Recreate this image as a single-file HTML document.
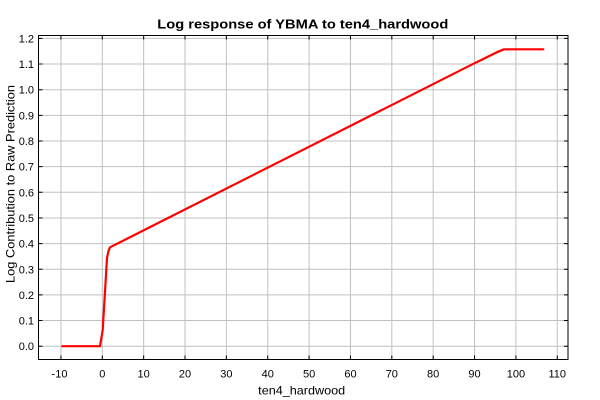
<!DOCTYPE html>
<html><head><meta charset="utf-8"><style>
html,body{margin:0;padding:0;background:#fff;}
svg{display:block;}
text{font-family:"Liberation Sans",Arial,sans-serif;fill:#000;}
</style></head><body>
<svg width="600" height="400" viewBox="0 0 600 400" xmlns="http://www.w3.org/2000/svg">
<rect width="600" height="400" fill="#fff"/>
<g stroke="#c0c0c0" stroke-width="1">
<line x1="60.94" y1="35.5" x2="60.94" y2="359.5"/>
<line x1="102.3" y1="35.5" x2="102.3" y2="359.5"/>
<line x1="143.66" y1="35.5" x2="143.66" y2="359.5"/>
<line x1="185.02" y1="35.5" x2="185.02" y2="359.5"/>
<line x1="226.38" y1="35.5" x2="226.38" y2="359.5"/>
<line x1="267.74" y1="35.5" x2="267.74" y2="359.5"/>
<line x1="309.1" y1="35.5" x2="309.1" y2="359.5"/>
<line x1="350.46" y1="35.5" x2="350.46" y2="359.5"/>
<line x1="391.82" y1="35.5" x2="391.82" y2="359.5"/>
<line x1="433.18" y1="35.5" x2="433.18" y2="359.5"/>
<line x1="474.54" y1="35.5" x2="474.54" y2="359.5"/>
<line x1="515.9" y1="35.5" x2="515.9" y2="359.5"/>
<line x1="557.26" y1="35.5" x2="557.26" y2="359.5"/>
<line x1="38.5" y1="346.2" x2="568" y2="346.2"/>
<line x1="38.5" y1="320.55" x2="568" y2="320.55"/>
<line x1="38.5" y1="294.9" x2="568" y2="294.9"/>
<line x1="38.5" y1="269.25" x2="568" y2="269.25"/>
<line x1="38.5" y1="243.6" x2="568" y2="243.6"/>
<line x1="38.5" y1="217.95" x2="568" y2="217.95"/>
<line x1="38.5" y1="192.3" x2="568" y2="192.3"/>
<line x1="38.5" y1="166.65" x2="568" y2="166.65"/>
<line x1="38.5" y1="141" x2="568" y2="141"/>
<line x1="38.5" y1="115.35" x2="568" y2="115.35"/>
<line x1="38.5" y1="89.7" x2="568" y2="89.7"/>
<line x1="38.5" y1="64.05" x2="568" y2="64.05"/>
<line x1="38.5" y1="38.4" x2="568" y2="38.4"/>
</g>
<polyline fill="none" stroke="#ff0000" stroke-width="2.2" stroke-linejoin="round" stroke-linecap="round"
points="62.3,346.2 100,346.2 102.7,330 104.5,300 107,258 108.5,251 110,247.3 474.3,63.3 482,59.6 490,55.6 498,51.8 504,49.3 543.3,49.3"/>
<g stroke="#000" stroke-width="1" fill="none">
<rect x="38.5" y="35.5" width="529.5" height="324"/>
<path d="M60.94 359.5v-4M102.3 359.5v-4M143.66 359.5v-4M185.02 359.5v-4M226.38 359.5v-4M267.74 359.5v-4M309.1 359.5v-4M350.46 359.5v-4M391.82 359.5v-4M433.18 359.5v-4M474.54 359.5v-4M515.9 359.5v-4M557.26 359.5v-4"/>
<path d="M60.94 35.5v4M102.3 35.5v4M143.66 35.5v4M185.02 35.5v4M226.38 35.5v4M267.74 35.5v4M309.1 35.5v4M350.46 35.5v4M391.82 35.5v4M433.18 35.5v4M474.54 35.5v4M515.9 35.5v4M557.26 35.5v4"/>
<path d="M38.5 346.2h4M38.5 320.55h4M38.5 294.9h4M38.5 269.25h4M38.5 243.6h4M38.5 217.95h4M38.5 192.3h4M38.5 166.65h4M38.5 141h4M38.5 115.35h4M38.5 89.7h4M38.5 64.05h4M38.5 38.4h4"/>
<path d="M568 346.2h-4M568 320.55h-4M568 294.9h-4M568 269.25h-4M568 243.6h-4M568 217.95h-4M568 192.3h-4M568 166.65h-4M568 141h-4M568 115.35h-4M568 89.7h-4M568 64.05h-4M568 38.4h-4"/>
</g>
<g font-size="11" text-anchor="end">
<text x="34" y="350.2">0.0</text>
<text x="34" y="324.55">0.1</text>
<text x="34" y="298.9">0.2</text>
<text x="34" y="273.25">0.3</text>
<text x="34" y="247.6">0.4</text>
<text x="34" y="221.95">0.5</text>
<text x="34" y="196.3">0.6</text>
<text x="34" y="170.65">0.7</text>
<text x="34" y="145">0.8</text>
<text x="34" y="119.35">0.9</text>
<text x="34" y="93.7">1.0</text>
<text x="34" y="68.05">1.1</text>
<text x="34" y="42.4">1.2</text>
</g>
<g font-size="11" text-anchor="middle">
<text x="59.5" y="377.5">-10</text>
<text x="102.3" y="377.5">0</text>
<text x="143.66" y="377.5">10</text>
<text x="185.02" y="377.5">20</text>
<text x="226.38" y="377.5">30</text>
<text x="267.74" y="377.5">40</text>
<text x="309.1" y="377.5">50</text>
<text x="350.46" y="377.5">60</text>
<text x="391.82" y="377.5">70</text>
<text x="433.18" y="377.5">80</text>
<text x="474.54" y="377.5">90</text>
<text x="515.9" y="377.5">100</text>
<text x="557.26" y="377.5">110</text>
</g>
<text x="302.8" y="28.3" font-size="13" font-weight="bold" text-anchor="middle" textLength="291" lengthAdjust="spacingAndGlyphs">Log response of YBMA to ten4_hardwood</text>
<text x="301.7" y="394.5" font-size="12" text-anchor="middle" textLength="87" lengthAdjust="spacingAndGlyphs">ten4_hardwood</text>
<text transform="translate(14.3,184) rotate(-90)" font-size="12" text-anchor="middle" textLength="198" lengthAdjust="spacingAndGlyphs">Log Contribution to Raw Prediction</text>
</svg>
</body></html>
